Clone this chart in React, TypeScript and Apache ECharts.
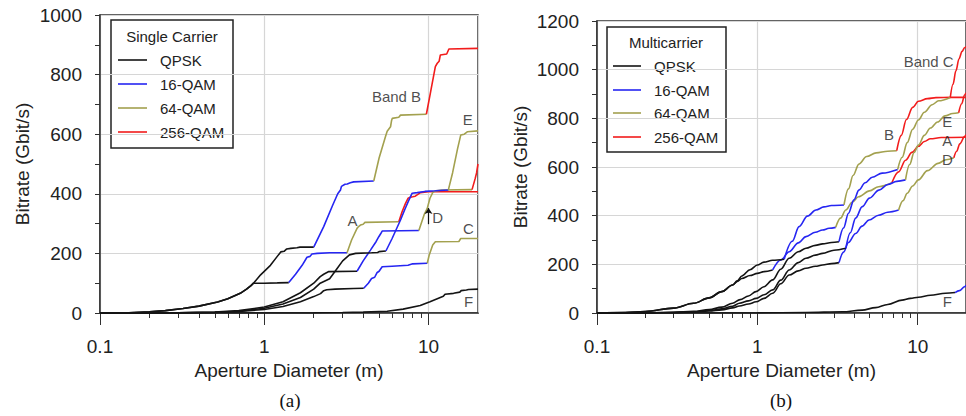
import React, { useEffect, useRef } from "react";
import * as echarts from "echarts";

// ---------- Panel (a): Single Carrier ----------
const scA_qpsk = [[0.1,0],[0.15,1],[0.2,4],[0.25,8],[0.32,15],[0.4,23],[0.52,37],[0.6,48],[0.714,66],[0.78,80],[0.83,92],[0.86,100],[1.0,100],[1.2,101],[1.41,102]];
const scA_16 = [[1.41,102],[1.55,130],[1.7,160],[1.82,187],[1.9,190],[1.95,198],[2.1,200],[2.5,202],[3.19,202]];
const scA_64 = [[3.19,202],[3.4,245],[3.67,284],[3.75,290],[3.85,295],[4.0,298],[4.1,304],[6.59,306]];
const scA_256 = [[6.59,306],[6.9,340],[7.24,368],[7.5,385],[7.7,388],[8.0,390],[8.3,392],[8.93,404],[10,407],[20,407]];

const scB_qpsk = [[0.1,0],[0.15,1],[0.2,4],[0.25,8],[0.32,15],[0.4,23],[0.52,37],[0.6,48],[0.714,66],[0.78,80],[0.83,92],[0.86,100],[0.95,128],[1.09,160],[1.2,190],[1.26,205],[1.32,207],[1.37,215],[1.45,217],[1.58,219],[1.65,221],[2.0,221]];
const scB_16 = [[2.0,221],[2.3,290],[2.6,360],[2.8,400],[2.91,413],[2.95,425],[3.1,432],[3.2,433],[3.34,437],[3.5,440],[4.64,443]];
const scB_64 = [[4.64,443],[5.0,520],[5.47,592],[5.6,610],[5.87,625],[5.95,645],[6.01,653],[6.59,657],[6.75,664],[9.7,667]];
const scB_256 = [[9.7,667],[10.3,743],[11.0,827],[11.3,838],[11.6,845],[11.8,866],[12.9,869],[13.3,886],[20,888]];

const scC_qpsk = [[0.1,0],[0.3,0.3],[0.5,2],[0.7,5],[1.0,12],[1.3,22],[1.66,38],[2.0,55],[2.2,65],[2.3,75],[2.4,78],[2.7,80],[3.5,82],[4.03,83]];
const scC_16 = [[4.03,83],[4.3,100],[4.5,116],[4.7,120],[4.85,135],[5.0,140],[5.22,155],[6.0,157],[7.5,160],[8.0,165],[9.82,167]];
const scC_64 = [[9.82,167],[10.1,195],[10.6,228],[11.0,239],[15.3,240],[15.7,250],[20,250]];

const scD_qpsk = [[0.1,0],[0.3,0.4],[0.5,3],[0.7,8],[1.0,20],[1.3,38],[1.66,68],[2.0,100],[2.19,122],[2.3,130],[2.47,139],[3.67,140]];
const scD_16 = [[3.67,140],[4.0,175],[4.43,211],[4.8,240],[4.98,256],[5.1,265],[5.22,275],[8.73,277]];
const scD_64 = [[8.73,277],[9.4,330],[9.82,351],[10.2,385],[10.6,404],[10.9,409],[12,413],[18.4,414]];
const scD_256 = [[18.4,414],[19.2,450],[19.6,470],[20,500]];

const scE_qpsk = [[0.1,0],[0.3,0.3],[0.5,2],[0.7,6],[1.0,16],[1.3,30],[1.66,52],[2.0,80],[2.19,100],[2.5,115],[2.7,140],[3.0,175],[3.3,195],[3.6,200],[4.5,202],[4.9,203],[5.0,206],[5.5,208]];
const scE_16 = [[5.5,208],[6.0,250],[6.75,312],[7.2,350],[7.59,379],[7.95,402],[8.53,404],[9.5,408],[11,410],[13.2,413]];
const scE_64 = [[13.2,413],[14.0,470],[15.0,550],[15.7,597],[16.5,600],[17.2,608],[20,611]];

const scF_qpsk = [[0.1,0],[1.0,0],[2.0,0.5],[3.0,1.5],[4.0,3],[5.6,6],[7.0,13],[8.9,25],[10.2,38],[11.3,48],[12.3,56],[12.6,63],[14.2,66],[15.5,70],[15.8,75],[17,77],[17.5,79],[20,80]];

const scNotes = [
  { name: "Band B", value: [6.38, 725] },
  { name: "E", value: [17.3, 648] },
  { name: "A", value: [3.44, 309] },
  { name: "D", value: [11.35, 319] },
  { name: "C", value: [17.5, 282] },
  { name: "F", value: [17.5, 40] },
];
const scArrow = [[10, 298], [10, 352]];

// ---------- Panel (b): Multicarrier ----------
const mcA_qpsk = [[0.1,0],[0.15,2],[0.2,6],[0.3,20],[0.4,40],[0.5,62],[0.6,88],[0.7,115],[0.75,130],[0.8,142],[0.9,154],[1.0,163],[1.1,170],[1.245,177]];
const mcA_16 = [[1.245,177],[1.4,218],[1.58,252],[1.8,288],[2.01,314],[2.3,332],[2.55,341],[2.8,348],[3.08,352]];
const mcA_64 = [[3.08,352],[3.3,390],[3.56,423],[3.9,455],[4.28,478],[5.0,502],[5.7,519],[6.9,535]];
const mcA_256 = [[6.9,535],[7.6,580],[8.4,628],[9.2,660],[10.1,685],[11,705],[12,716],[14,721],[20,722]];

const mcB_qpsk = [[0.1,0],[0.15,2],[0.2,6],[0.3,20],[0.4,40],[0.5,62],[0.6,88],[0.7,115],[0.75,132],[0.8,152],[0.9,178],[1.0,197],[1.1,209],[1.245,217],[1.47,221]];
const mcB_16 = [[1.47,221],[1.65,295],[1.82,355],[2.05,398],[2.32,423],[2.6,436],[2.9,442],[3.47,444]];
const mcB_64 = [[3.47,444],[3.7,510],[3.95,565],[4.3,612],[4.8,643],[5.5,658],[6.5,665],[7.4,667]];
const mcB_256 = [[7.4,667],[7.9,730],[8.5,795],[9.3,845],[10.1,870],[11.5,881],[13,885],[16,886],[20,886]];

const mcC_qpsk = [[0.1,0],[0.2,1],[0.3,3],[0.4,7],[0.5,14],[0.6,24],[0.7,40],[0.78,55],[0.88,70],[0.98,88],[1.1,108],[1.245,136],[1.4,180],[1.58,225],[1.8,252],[2.01,266],[2.3,278],[2.55,284],[2.9,290],[3.23,293]];
const mcC_16 = [[3.23,293],[3.45,350],[3.7,410],[4.0,465],[4.3,505],[4.7,535],[5.2,558],[6.0,575],[7.5,590]];
const mcC_64 = [[7.5,590],[8.0,640],[8.6,700],[9.3,755],[10.1,793],[11,825],[12.3,856],[13.5,872],[15.96,886]];
const mcC_256 = [[15.96,886],[16.6,940],[17.3,995],[18.1,1045],[18.9,1075],[19.6,1090],[20,1095]];

const mcD_qpsk = [[0.1,0],[0.2,0.5],[0.3,1.5],[0.4,4],[0.5,8],[0.6,13],[0.7,21],[0.773,29],[0.88,37],[0.982,46],[1.1,60],[1.245,81],[1.4,120],[1.58,156],[1.8,173],[2.01,184],[2.3,192],[2.55,197],[2.9,203],[3.23,207]];
const mcD_16 = [[3.23,207],[3.45,250],[3.7,290],[4.1,327],[4.5,357],[4.97,382],[5.7,402],[6.5,414],[7.6,423]];
const mcD_64 = [[7.6,423],[8.1,462],[8.6,492],[9.3,522],[10.1,547],[11.5,585],[13.4,615],[15,630],[16.8,638]];
const mcD_256 = [[16.8,638],[17.5,665],[18.3,695],[19.6,725],[20,733]];

const mcE_qpsk = [[0.1,0],[0.2,0.5],[0.3,2],[0.4,5],[0.5,10],[0.6,17],[0.7,28],[0.773,40],[0.88,50],[0.982,60],[1.1,75],[1.245,95],[1.4,135],[1.58,177],[1.8,207],[2.01,225],[2.3,238],[2.55,245],[3.0,258],[3.56,266]];
const mcE_16 = [[3.56,266],[3.8,330],[4.1,390],[4.51,437],[5.0,472],[5.73,505],[6.5,528],[7.4,541],[8.39,547]];
const mcE_64 = [[8.39,547],[8.9,610],[9.5,660],[10.1,690],[11,730],[12,760],[13.3,785],[14.8,810],[16.5,820],[18,823]];
const mcE_256 = [[18,823],[18.8,860],[19.6,896],[20,905]];

const mcF_qpsk = [[0.1,0],[0.5,0],[1,0.5],[2,2],[3.39,5],[4.5,12],[5.46,22],[6.5,35],[7.98,53],[9,60],[10.1,65],[12,73],[14.9,81],[17.1,84]];
const mcF_16 = [[17.1,84],[18.2,92],[19.6,108],[20,115]];

const mcNotes = [
  { name: "Band C", value: [11.7, 1032] },
  { name: "B", value: [6.61, 732] },
  { name: "E", value: [15.3, 789] },
  { name: "A", value: [15.3, 707] },
  { name: "D", value: [15.3, 629] },
  { name: "F", value: [15.3, 49] },
];

// ---------- Axes / legend text ----------
const xMajorLabels = [0.1, 1, 10];
const xMinorTicks = [0.2, 0.3, 0.4, 0.5, 0.6, 0.7, 0.8, 0.9, 2, 3, 4, 5, 6, 7, 8, 9];
const legendNames = ["QPSK", "16-QAM", "64-QAM", "256-QAM"];
const panelTitles = ["Single Carrier", "Multicarrier"];
const panelTags = ["(a)", "(b)"];

const BLACK = "#141414";
const BLUE = "#2626f2";
const OLIVE = "#a3a14f";
const RED = "#f21c1c";
const MOD_COLORS = [BLACK, BLUE, OLIVE, RED];
const SANS = '"Liberation Sans", Arial, sans-serif';
const SERIF = '"Liberation Serif", "Times New Roman", serif';
const FRAME = "#303030";
const GRIDC = "#d6d6d6";
const AX_FONT = 19;

function seg(data: number[][], color: string, axis: number, smooth: boolean) {
  return {
    type: "line",
    data,
    xAxisIndex: axis * 2,
    yAxisIndex: axis,
    symbol: "none",
    showSymbol: false,
    smooth: smooth ? 0.35 : false,
    smoothMonotone: "x",
    silent: true,
    lineStyle: { color, width: 1.6 },
    itemStyle: { color },
    z: 3,
  };
}

function makeAxes(gridIndex: number, ymax: number, plotHeight: number) {
  const xs = [
    {
      type: "log",
      gridIndex,
      position: "bottom",
      min: 0.1,
      max: 20,
      logBase: 10,
      axisLine: { show: true, onZero: false, lineStyle: { color: FRAME, width: 1.5 } },
      axisTick: { show: true, length: 12, lineStyle: { color: FRAME, width: 1 } },
      axisLabel: {
        show: true,
        margin: 24,
        fontSize: AX_FONT,
        fontFamily: SANS,
        color: "#222",
        showMaxLabel: false,
        formatter: (v: number) => {
          const hit = xMajorLabels.find((m) => Math.abs(m - v) / m < 1e-6);
          return hit === undefined ? "" : String(hit);
        },
      },
      splitLine: { show: true, lineStyle: { color: GRIDC, width: 1.2 } },
      name: "Aperture Diameter (m)",
      nameLocation: "middle",
      nameGap: 41,
      nameTextStyle: { fontSize: AX_FONT, fontFamily: SANS, color: "#222" },
    },
    {
      // minor log ticks: a decoration axis moved from the top edge down onto the bottom edge
      type: "value",
      gridIndex,
      position: "top",
      offset: -plotHeight,
      min: -1,
      max: Math.log10(20),
      axisLine: { show: false, onZero: false },
      axisLabel: { show: false },
      splitLine: { show: false },
      axisTick: {
        show: true,
        inside: true,
        length: 5,
        customValues: xMinorTicks.map((t) => Math.log10(t)),
        lineStyle: { color: FRAME, width: 1 },
      },
    },
  ];
  const ys = [
    {
      type: "value",
      gridIndex,
      position: "left",
      min: 0,
      max: ymax,
      interval: 100,
      axisLine: { show: true, onZero: false, lineStyle: { color: FRAME, width: 1.5 } },
      axisTick: { show: true, length: 5, lineStyle: { color: FRAME, width: 1 } },
      axisLabel: {
        margin: 18,
        fontSize: AX_FONT,
        fontFamily: SANS,
        color: "#222",
        formatter: (v: number) => (Math.round(v) % 200 === 0 ? String(Math.round(v)) : ""),
      },
      splitLine: { show: true, lineStyle: { color: [GRIDC, "rgba(0,0,0,0)"], width: 1.2 } },
      name: "Bitrate (Gbit/s)",
      nameLocation: "middle",
      nameGap: gridIndex === 0 ? 68 : 67,
      nameTextStyle: { fontSize: AX_FONT, fontFamily: SANS, color: "#222" },
    },
  ];
  return { xs, ys };
}

function noteSeries(data: any[], axis: number, arrow?: number[][]) {
  const s: any = {
    type: "scatter",
    data,
    xAxisIndex: axis * 2,
    yAxisIndex: axis,
    symbolSize: 1,
    itemStyle: { color: "rgba(0,0,0,0)" },
    silent: true,
    z: 5,
    label: {
      show: true,
      position: "inside",
      formatter: "{b}",
      fontSize: 15,
      fontFamily: SANS,
      color: "#1e1e1e",
    },
  };
  if (arrow) {
    s.markLine = {
      silent: true,
      symbol: ["none", "arrow"],
      symbolSize: 6,
      label: { show: false },
      lineStyle: { color: "#111", width: 1.2, type: "solid" },
      data: [[{ coord: arrow[0] }, { coord: arrow[1] }]],
    };
  }
  return s;
}

function legendBox(x: number, y: number, w: number, h: number, title: string, lineX0: number, lineX1: number, textX: number, rowYs: number[], titleX: number, titleY: number) {
  const children: any[] = [
    { type: "rect", shape: { x, y, width: w, height: h }, style: { fill: "#fff", stroke: "#222", lineWidth: 1.5 } },
    {
      type: "text",
      x: titleX,
      y: titleY,
      style: { text: title, fontSize: 15, fontFamily: SANS, fill: "#222", textAlign: "center", textVerticalAlign: "middle", align: "center", verticalAlign: "middle" },
    },
  ];
  legendNames.forEach((nm, i) => {
    children.push({
      type: "line",
      shape: { x1: lineX0, y1: rowYs[i], x2: lineX1, y2: rowYs[i] },
      style: { stroke: MOD_COLORS[i], lineWidth: 1.6 },
    });
    children.push({
      type: "text",
      x: textX,
      y: rowYs[i],
      style: { text: nm, fontSize: 15, fontFamily: SANS, fill: "#222", textAlign: "left", textVerticalAlign: "middle", align: "left", verticalAlign: "middle" },
    });
  });
  return { type: "group", z: 100, children };
}

export default function App() {
  const ref = useRef<HTMLDivElement>(null);
  useEffect(() => {
    if (!ref.current) return;
    const chart = echarts.init(ref.current, undefined, { renderer: "svg" });
    const a = makeAxes(0, 1000, 298);
    const b = makeAxes(1, 1200, 292);
    const sc = [
      [scA_qpsk, scA_16, scA_64, scA_256],
      [scB_qpsk, scB_16, scB_64, scB_256],
      [scC_qpsk, scC_16, scC_64],
      [scD_qpsk, scD_16, scD_64, scD_256],
      [scE_qpsk, scE_16, scE_64],
      [scF_qpsk],
    ];
    const mc = [
      [mcA_qpsk, mcA_16, mcA_64, mcA_256],
      [mcB_qpsk, mcB_16, mcB_64, mcB_256],
      [mcC_qpsk, mcC_16, mcC_64, mcC_256],
      [mcD_qpsk, mcD_16, mcD_64, mcD_256],
      [mcE_qpsk, mcE_16, mcE_64, mcE_256],
      [mcF_qpsk, mcF_16],
    ];
    const series: any[] = [];
    sc.forEach((curve) => curve.forEach((d, i) => series.push(seg(d, MOD_COLORS[i], 0, false))));
    mc.forEach((curve) => curve.forEach((d, i) => series.push(seg(d, MOD_COLORS[i], 1, true))));
    series.push(noteSeries(scNotes, 0, scArrow));
    series.push(noteSeries(mcNotes, 1));

    chart.setOption({
      animation: false,
      backgroundColor: "#fff",
      grid: [
        { left: 100, top: 15, width: 378, height: 298, show: true, borderColor: FRAME, borderWidth: 1.5, backgroundColor: "transparent" },
        { left: 597, top: 21, width: 370, height: 292, show: true, borderColor: FRAME, borderWidth: 1.5, backgroundColor: "transparent" },
      ],
      xAxis: [...a.xs, ...b.xs],
      yAxis: [...a.ys, ...b.ys],
      series,
      graphic: [
        legendBox(111, 20, 122, 128, panelTitles[0], 118, 147, 160, [60, 84, 108, 132], 172, 36),
        legendBox(607, 27, 119, 125, panelTitles[1], 613, 641, 654, [66, 90, 113, 137], 666, 42),
        {
          type: "text",
          x: 290,
          y: 400,
          z: 100,
          style: { text: panelTags[0], fontSize: 19, fontFamily: SERIF, fill: "#111", textAlign: "center", textVerticalAlign: "middle", align: "center", verticalAlign: "middle" },
        },
        {
          type: "text",
          x: 781,
          y: 400,
          z: 100,
          style: { text: panelTags[1], fontSize: 19, fontFamily: SERIF, fill: "#111", textAlign: "center", textVerticalAlign: "middle", align: "center", verticalAlign: "middle" },
        },
      ],
    });
    return () => chart.dispose();
  }, []);
  return (
    <div
      ref={ref}
      style={{ position: "fixed", left: 0, top: 0, width: 966, height: 416, background: "#fff" }}
    />
  );
}
